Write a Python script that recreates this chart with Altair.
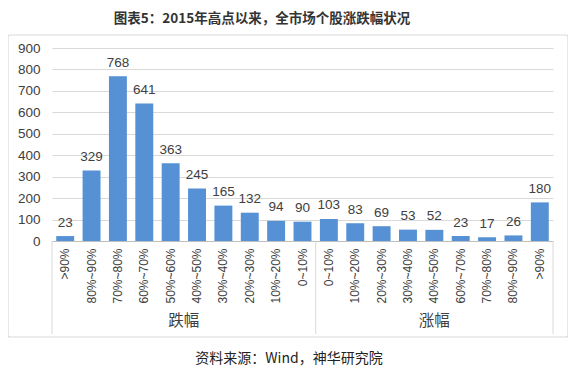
import altair as alt
import pandas as pd

# ---- data ----
groups = ["跌幅"] * 10 + ["涨幅"] * 9
ranges = [">90%", "80%~90%", "70%~80%", "60%~70%", "50%~60%", "40%~50%",
          "30%~40%", "20%~30%", "10%~20%", "0~10%",
          "0~10%", "10%~20%", "20%~30%", "30%~40%", "40%~50%",
          "60%~70%", "70%~80%", "80%~90%", ">90%"]
counts = [23, 329, 768, 641, 363, 245, 165, 132, 94, 90,
          103, 83, 69, 53, 52, 23, 17, 26, 180]
group_names = ["跌幅", "涨幅"]
y_ticks = [0, 100, 200, 300, 400, 500, 600, 700, 800, 900]
title_text = "图表5：2015年高点以来，全市场个股涨跌幅状况"
source_text = "资料来源：Wind，神华研究院"

keys = [f"{g}{i:02d}|{r}" for i, (g, r) in enumerate(zip(groups, ranges))]
df = pd.DataFrame({"key": keys, "group": groups, "range": ranges, "count": counts})

W, H = 501, 193
step = W / len(keys)
n1 = groups.count(group_names[0])
n2 = groups.count(group_names[1])

FONT = "Liberation Sans"
CJK = "Noto Sans CJK SC"
TXT = "#404040"
BAR = "#5591D4"

xenc = alt.X("key:N", sort=keys,
             scale=alt.Scale(paddingInner=0.32, paddingOuter=0.16),
             axis=alt.Axis(title=None, labelAngle=-90, labelExpr="split(datum.label,'|')[1]",
                           labelFont=FONT, labelFontSize=12, labelColor=TXT,
                           labelPadding=7, ticks=False, domainColor="#BFBFBF",
                           labelOverlap=False))
yenc = alt.Y("count:Q", scale=alt.Scale(domain=[0, 900], nice=False),
             axis=alt.Axis(title=None, values=y_ticks, tickCount=len(y_ticks),
                           labelFont=FONT, labelFontSize=13.5, labelColor=TXT,
                           labelPadding=12, ticks=False, domain=False,
                           labelOverlap=False, gridColor="#D9D9D9"))

base = alt.Chart(df)
bars = base.mark_bar(color=BAR).encode(x=xenc, y=yenc)
labels = base.mark_text(dy=-9.5, baseline="alphabetic", font=FONT, fontSize=13.5,
                        color=TXT).encode(x=xenc, y=yenc, text="count:Q")

box = alt.Chart(pd.DataFrame({"a": [0]})).mark_rect(
    fill=None, stroke="#D9D9D9", strokeWidth=1.2, cornerRadius=2
).encode(x=alt.value(-44), x2=alt.value(516), y=alt.value(-13), y2=alt.value(289))

seps = alt.Chart(pd.DataFrame({"p": [0, n1 * step, W]})).mark_rule(
    color="#D9D9D9", strokeWidth=1
).encode(x=alt.X("p:Q", scale=None), y=alt.value(H), y2=alt.value(H + 93))

gdf = pd.DataFrame({"g": group_names,
                    "p": [n1 * step / 2, n1 * step + n2 * step / 2]})
glabels = alt.Chart(gdf).mark_text(font=CJK, fontSize=15.5, color=TXT,
                                   baseline="middle").encode(
    x=alt.X("p:Q", scale=None), y=alt.value(H + 80), text="g:N")

title = alt.Chart(pd.DataFrame({"t": [title_text]})).mark_text(
    font=CJK, fontSize=13.5, fontWeight="bold", color="#333333", baseline="middle"
).encode(x=alt.value(210), y=alt.value(-29), text="t:N")

source = alt.Chart(pd.DataFrame({"t": [source_text]})).mark_text(
    font=CJK, fontSize=14, color="#222222", baseline="middle"
).encode(x=alt.value(237), y=alt.value(311), text="t:N")

chart = alt.layer(box, bars, labels, seps, glabels, title, source).properties(
    width=W, height=H,
    autosize=alt.AutoSizeParams(type="none"),
    padding={"left": 44, "top": 40, "right": 15, "bottom": 128},
    background="white",
).configure_view(stroke=None)

chart.save("out.html", embed_options={"renderer": "svg", "actions": False})
